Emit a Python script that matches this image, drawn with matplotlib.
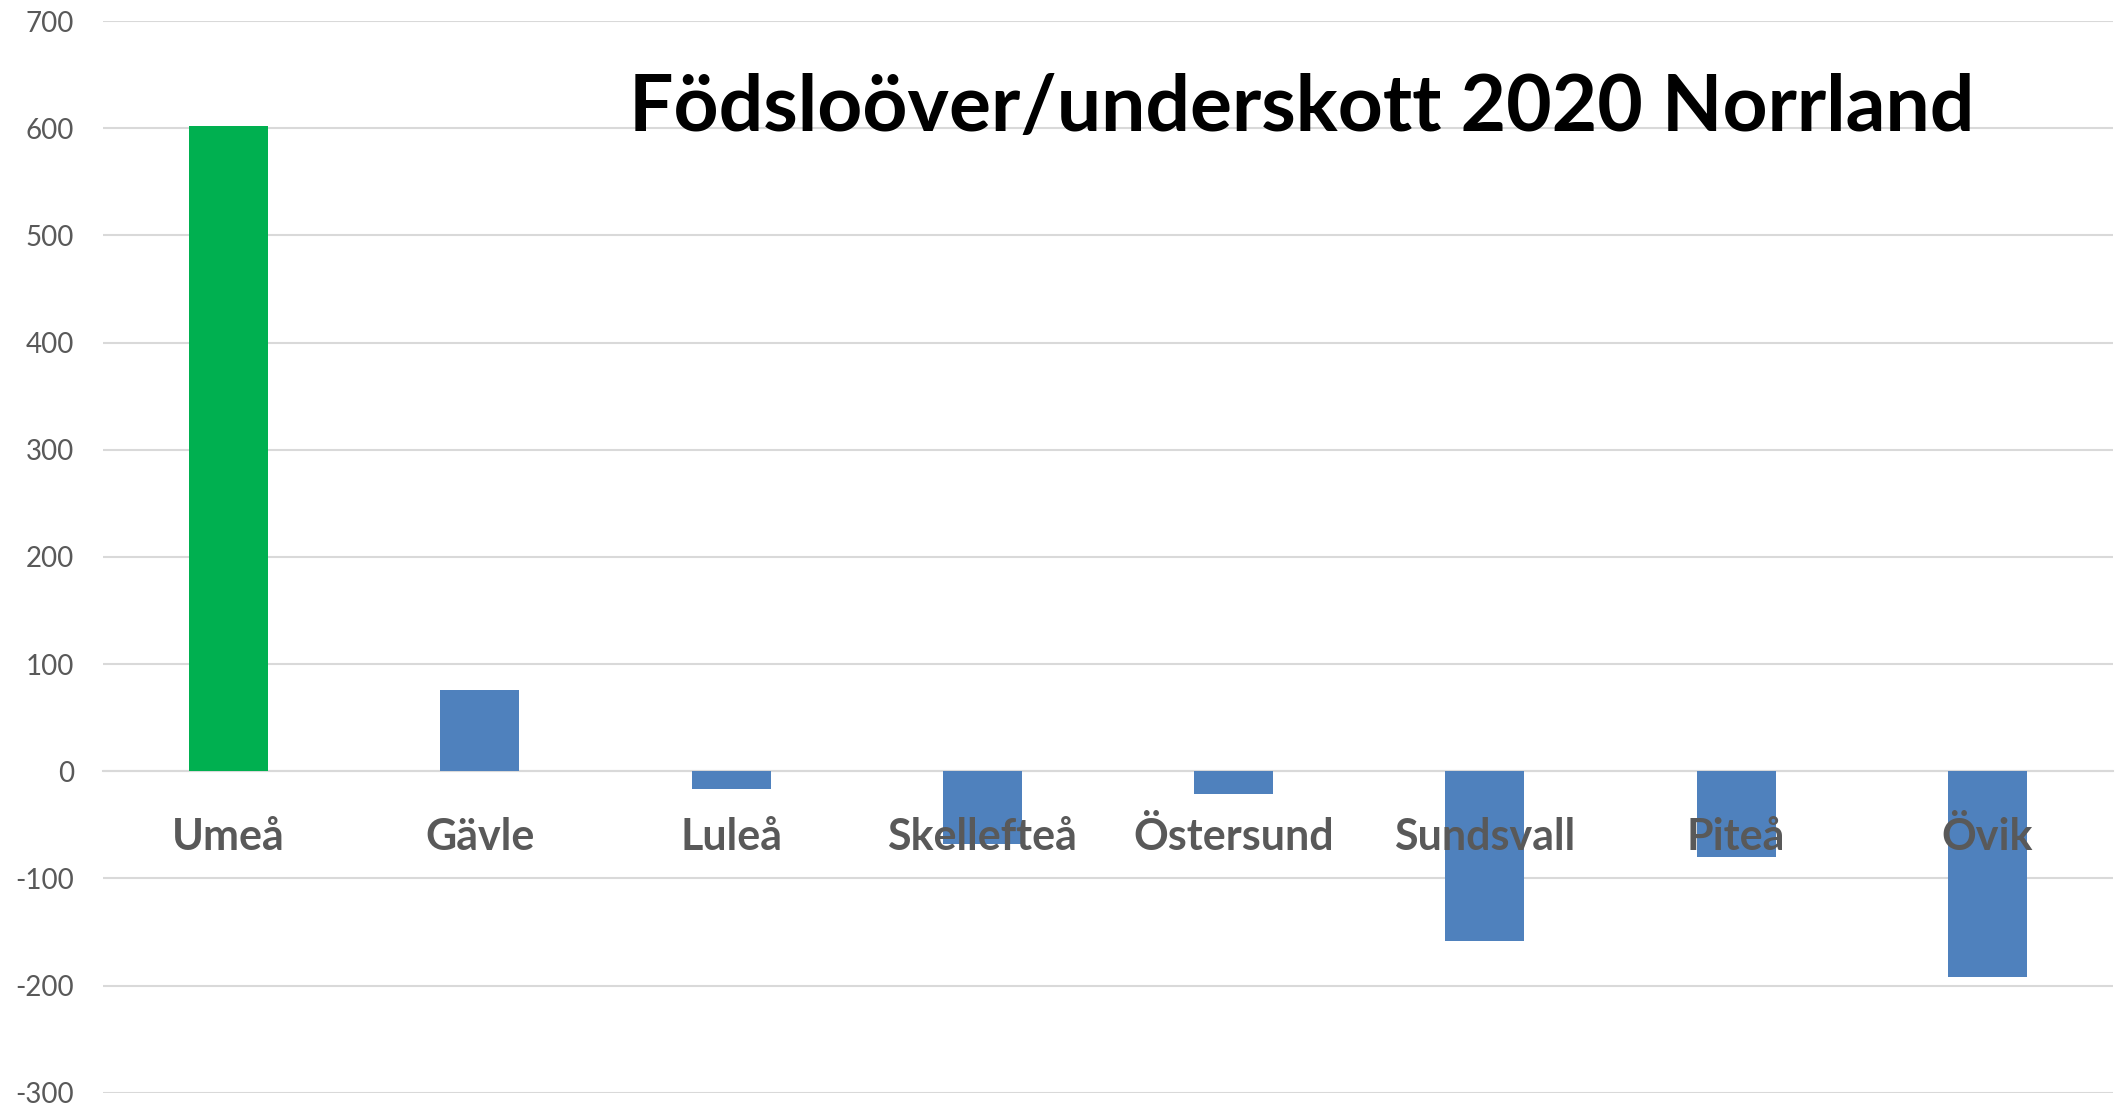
import matplotlib.pyplot as plt

# Födselöverskott per ort, 2020
orter = ['Umeå', 'Gävle', 'Luleå', 'Skellefteå', 'Östersund', 'Sundsvall', 'Piteå', 'Övik']
overskott = [602, 76, -17, -68, -21, -158, -80, -192]
farger = ['#00B050'] + ['#4F81BD'] * 7
y_ticks = [-300, -200, -100, 0, 100, 200, 300, 400, 500, 600, 700]

plt.rcParams['font.family'] = ['Lato', 'DejaVu Sans']

fig = plt.figure(figsize=(21.23, 11.08), dpi=100)
ax = fig.add_axes([103 / 2123, 0.0138, 2010 / 2123, 0.9672])

ax.bar(range(len(orter)), overskott, width=0.314, color=farger, zorder=2)

ax.set_xlim(-0.5, len(orter) - 0.5)
ax.set_ylim(-300, 700)
ax.set_yticks(y_ticks)
ax.set_yticklabels([str(v) for v in y_ticks], fontsize=20, color='#595959')
ax.tick_params(axis='y', length=0, pad=21)

ax.grid(axis='y', color='#D9D9D9', linewidth=1.5)
for side in ['top', 'right', 'left']:
    ax.spines[side].set_visible(False)
ax.spines['bottom'].set_position(('data', 0))
ax.spines['bottom'].set_color('#D9D9D9')
ax.spines['bottom'].set_linewidth(1.5)
ax.spines['bottom'].set_zorder(1)

ax.set_xticks(range(len(orter)))
ax.set_xticklabels(orter, fontsize=31, fontweight='bold', color='#595959')
ax.tick_params(axis='x', length=0, pad=33)

# grid behind the bars, city names on top of them
ax.yaxis.set_zorder(0.5)
ax.xaxis.set_zorder(3)

fig.text(1302 / 2123, 1 - 131 / 1108, 'Födsloöver/underskott 2020 Norrland',
         ha='center', va='baseline', fontsize=56.5, fontweight='bold', color='black')

fig.savefig('out.png', dpi=100)
